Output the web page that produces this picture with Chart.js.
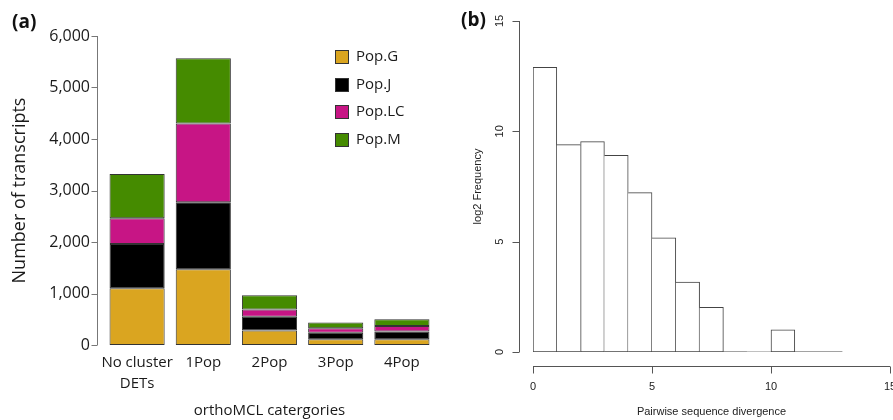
<!DOCTYPE html>
<html>
<head>
<meta charset="utf-8">
<script src="https://cdn.jsdelivr.net/npm/chart.js@4.4.1/dist/chart.umd.min.js"></script>
<style>
  html, body { margin: 0; padding: 0; background: #fff; width: 893px; height: 420px; overflow: hidden; }
  #painelA { position: absolute; left: 0; top: 0; width: 450px; height: 420px; }
  #painelB { position: absolute; left: 450px; top: 0; width: 446px; height: 420px; }
  .letra { position: absolute; font: bold 19px "Open Sans", sans-serif; color: #111; }
</style>
</head>
<body>
<div id="painelA"><canvas id="graficoA" width="450" height="420"></canvas></div>
<div id="painelB"><canvas id="graficoB" width="446" height="420"></canvas></div>
<div class="letra" style="left:12px; top:8px;">(a)</div>
<div class="letra" style="left:461px; top:6px;">(b)</div>
<script>
// (a) transcritos por categoria orthoMCL
const categorias = [['No cluster', 'DETs'], '1Pop', '2Pop', '3Pop', '4Pop'];
const populacoes = ['Pop.G', 'Pop.J', 'Pop.LC', 'Pop.M'];
const popG = [1100, 1470, 280, 110, 110];
const popJ = [860, 1300, 270, 130, 150];
const popLC = [500, 1530, 140, 85, 110];
const popM = [860, 1270, 275, 110, 130];
const ticksYA = [0, 1000, 2000, 3000, 4000, 5000, 6000];

// (b) histograma da divergencia
const limitesClasses = [0, 1, 2, 3, 4, 5, 6, 7, 8, 9, 10, 11, 12, 13];
const log2Frequencia = [12.9, 9.4, 9.53, 8.91, 7.22, 5.17, 3.17, 2.02, 0, 0, 1.01, 0, 0];
const ticksXB = [0, 5, 10, 15];
const ticksYB = [0, 5, 10, 15];

// eixos no estilo do R, afastados da area do grafico
const eixosR = {
    id: 'eixosR',
    afterDraw(chart, args, opts) {
        const ctx = chart.ctx;
        const area = chart.chartArea;
        ctx.save();
        ctx.strokeStyle = opts.cor;
        ctx.lineWidth = 1;
        ctx.beginPath();
        if (opts.y) {
            const s = chart.scales.y;
            const x = Math.round(area.left - opts.y.afast) + 0.5;
            const valores = s.ticks.map(t => t.value);
            ctx.moveTo(x, s.getPixelForValue(valores[0]));
            ctx.lineTo(x, s.getPixelForValue(valores[valores.length - 1]));
            valores.forEach(v => {
                const py = Math.round(s.getPixelForValue(v)) + 0.5;
                ctx.moveTo(x, py);
                ctx.lineTo(x - opts.y.tick, py);
            });
        }
        if (opts.x) {
            const s = chart.scales.x;
            const y = Math.round(area.bottom + opts.x.afast) + 0.5;
            const valores = s.ticks.map(t => t.value);
            ctx.moveTo(s.getPixelForValue(valores[0]), y);
            ctx.lineTo(s.getPixelForValue(valores[valores.length - 1]), y);
            valores.forEach(v => {
                const px = Math.round(s.getPixelForValue(v)) + 0.5;
                ctx.moveTo(px, y);
                ctx.lineTo(px, y + opts.x.tick);
            });
        }
        ctx.stroke();
        ctx.restore();
    }
};

// legenda com caixas dentro do grafico (a)
const legendaCaixas = {
    id: 'legendaCaixas',
    afterDraw(chart, args, opts) {
        const ctx = chart.ctx;
        ctx.save();
        ctx.font = opts.fonte;
        ctx.textBaseline = 'middle';
        chart.data.datasets.forEach((ds, i) => {
            const y = Math.round(opts.y + i * opts.passo);
            ctx.fillStyle = ds.backgroundColor;
            ctx.fillRect(opts.x, y, opts.caixa, opts.caixa);
            ctx.strokeStyle = '#333';
            ctx.strokeRect(opts.x + 0.5, y + 0.5, opts.caixa - 1, opts.caixa - 1);
            ctx.fillStyle = '#1a1a1a';
            ctx.fillText(ds.label, opts.x + opts.caixa + 7, y + opts.caixa / 2);
        });
        ctx.restore();
    }
};

// tira o espaco extra que o Chart.js reserva para os rotulos nas pontas
function semPadding(s) {
    s.paddingTop = 0;
    s.paddingBottom = 0;
    s.paddingLeft = 0;
    s.paddingRight = 0;
}

const fonteA = 'Open Sans';
const fonteB = 'Liberation Sans';

new Chart(document.getElementById('graficoA'), {
    type: 'bar',
    data: {
        labels: categorias,
        datasets: [
            { label: populacoes[0], data: popG, backgroundColor: '#DAA520' },
            { label: populacoes[1], data: popJ, backgroundColor: '#000000' },
            { label: populacoes[2], data: popLC, backgroundColor: '#C71585' },
            { label: populacoes[3], data: popM, backgroundColor: '#458B00' }
        ]
    },
    options: {
        responsive: false,
        animation: false,
        layout: { padding: { top: 36, right: 15, left: 0, bottom: 0 } },
        datasets: {
            bar: { barPercentage: 0.833, categoryPercentage: 1, borderColor: '#333', borderWidth: 1, borderSkipped: false }
        },
        plugins: {
            legend: { display: false },
            tooltip: { enabled: false },
            legendaCaixas: { x: 335, y: 50, passo: 27.7, caixa: 14, fonte: '15px "Open Sans"' },
            eixosR: { cor: '#777', y: { afast: 7, tick: 6 } }
        },
        scales: {
            x: {
                stacked: true,
                grid: { display: false, drawTicks: false },
                border: { display: false },
                ticks: { color: '#1a1a1a', font: { family: fonteA, size: 15, lineHeight: 1.4 }, padding: 7, maxRotation: 0, autoSkip: false },
                title: { display: true, text: 'orthoMCL catergories', color: '#1a1a1a', font: { family: fonteA, size: 15 }, padding: { top: 0, bottom: 0 } },
                afterFit(s) { s.height = 75; semPadding(s); }
            },
            y: {
                stacked: true,
                min: 0,
                max: 6000,
                afterBuildTicks(s) { s.ticks = ticksYA.map(v => ({ value: v })); },
                grid: { display: false, drawTicks: false },
                border: { display: false },
                ticks: { color: '#1a1a1a', font: { family: fonteA, size: 16 }, padding: 14, callback: v => v.toLocaleString('en-US') },
                title: { display: true, text: 'Number of transcripts', color: '#1a1a1a', font: { family: fonteA, size: 18 }, padding: { top: 9, bottom: 0 } },
                afterFit(s) { s.width = 104; semPadding(s); }
            }
        }
    },
    plugins: [eixosR, legendaCaixas]
});

// bordas partilhadas entre classes vizinhas desenhadas uma vez so
function bordaClasse(c) {
    const i = c.dataIndex;
    const v = log2Frequencia;
    const ultimo = v.length - 1;
    return {
        top: 1,
        bottom: 1,
        left: (i === 0 || v[i] > v[i - 1]) ? 1 : 0,
        right: (i === ultimo || v[i] >= v[i + 1]) ? 1 : 0
    };
}

new Chart(document.getElementById('graficoB'), {
    type: 'bar',
    data: {
        datasets: [
            {
                type: 'bar',
                data: log2Frequencia.map((v, i) => ({ x: (limitesClasses[i] + limitesClasses[i + 1]) / 2, y: v })),
                backgroundColor: '#ffffff',
                borderColor: '#444',
                borderWidth: bordaClasse,
                borderSkipped: false,
                barPercentage: 1,
                categoryPercentage: 1
            },
            {
                type: 'line',
                data: [
                    { x: limitesClasses[0], y: 0 },
                    { x: limitesClasses[limitesClasses.length - 1], y: 0 }
                ],
                borderColor: '#444',
                borderWidth: 1,
                pointRadius: 0
            }
        ]
    },
    options: {
        responsive: false,
        animation: false,
        layout: { padding: { top: 21, right: 6, left: 0, bottom: 0 } },
        plugins: {
            legend: { display: false },
            tooltip: { enabled: false },
            eixosR: { cor: '#555', y: { afast: 14, tick: 7 }, x: { afast: 14, tick: 7 } }
        },
        scales: {
            x: {
                type: 'linear',
                min: 0,
                max: 15,
                offset: false,
                afterBuildTicks(s) { s.ticks = ticksXB.map(v => ({ value: v })); },
                grid: { display: false, drawTicks: false },
                border: { display: false },
                ticks: { color: '#222', font: { family: fonteB, size: 11 }, padding: 28, maxRotation: 0 },
                title: { display: true, text: 'Pairwise sequence divergence', color: '#222', font: { family: fonteB, size: 11 }, padding: { top: 0, bottom: 1 } },
                afterFit(s) { s.height = 68; semPadding(s); }
            },
            y: {
                min: 0,
                max: 15,
                afterBuildTicks(s) { s.ticks = ticksYB.map(v => ({ value: v })); },
                grid: { display: false, drawTicks: false },
                border: { display: false },
                ticks: { color: '#222', font: { family: fonteB, size: 11 }, padding: 27, minRotation: 90, maxRotation: 90, crossAlign: 'center' },
                title: { display: true, text: 'log2 Frequency', color: '#222', font: { family: fonteB, size: 11 }, padding: { top: 21, bottom: 0 } },
                afterFit(s) { s.width = 83; semPadding(s); }
            }
        }
    },
    plugins: [eixosR]
});
</script>
</body>
</html>
